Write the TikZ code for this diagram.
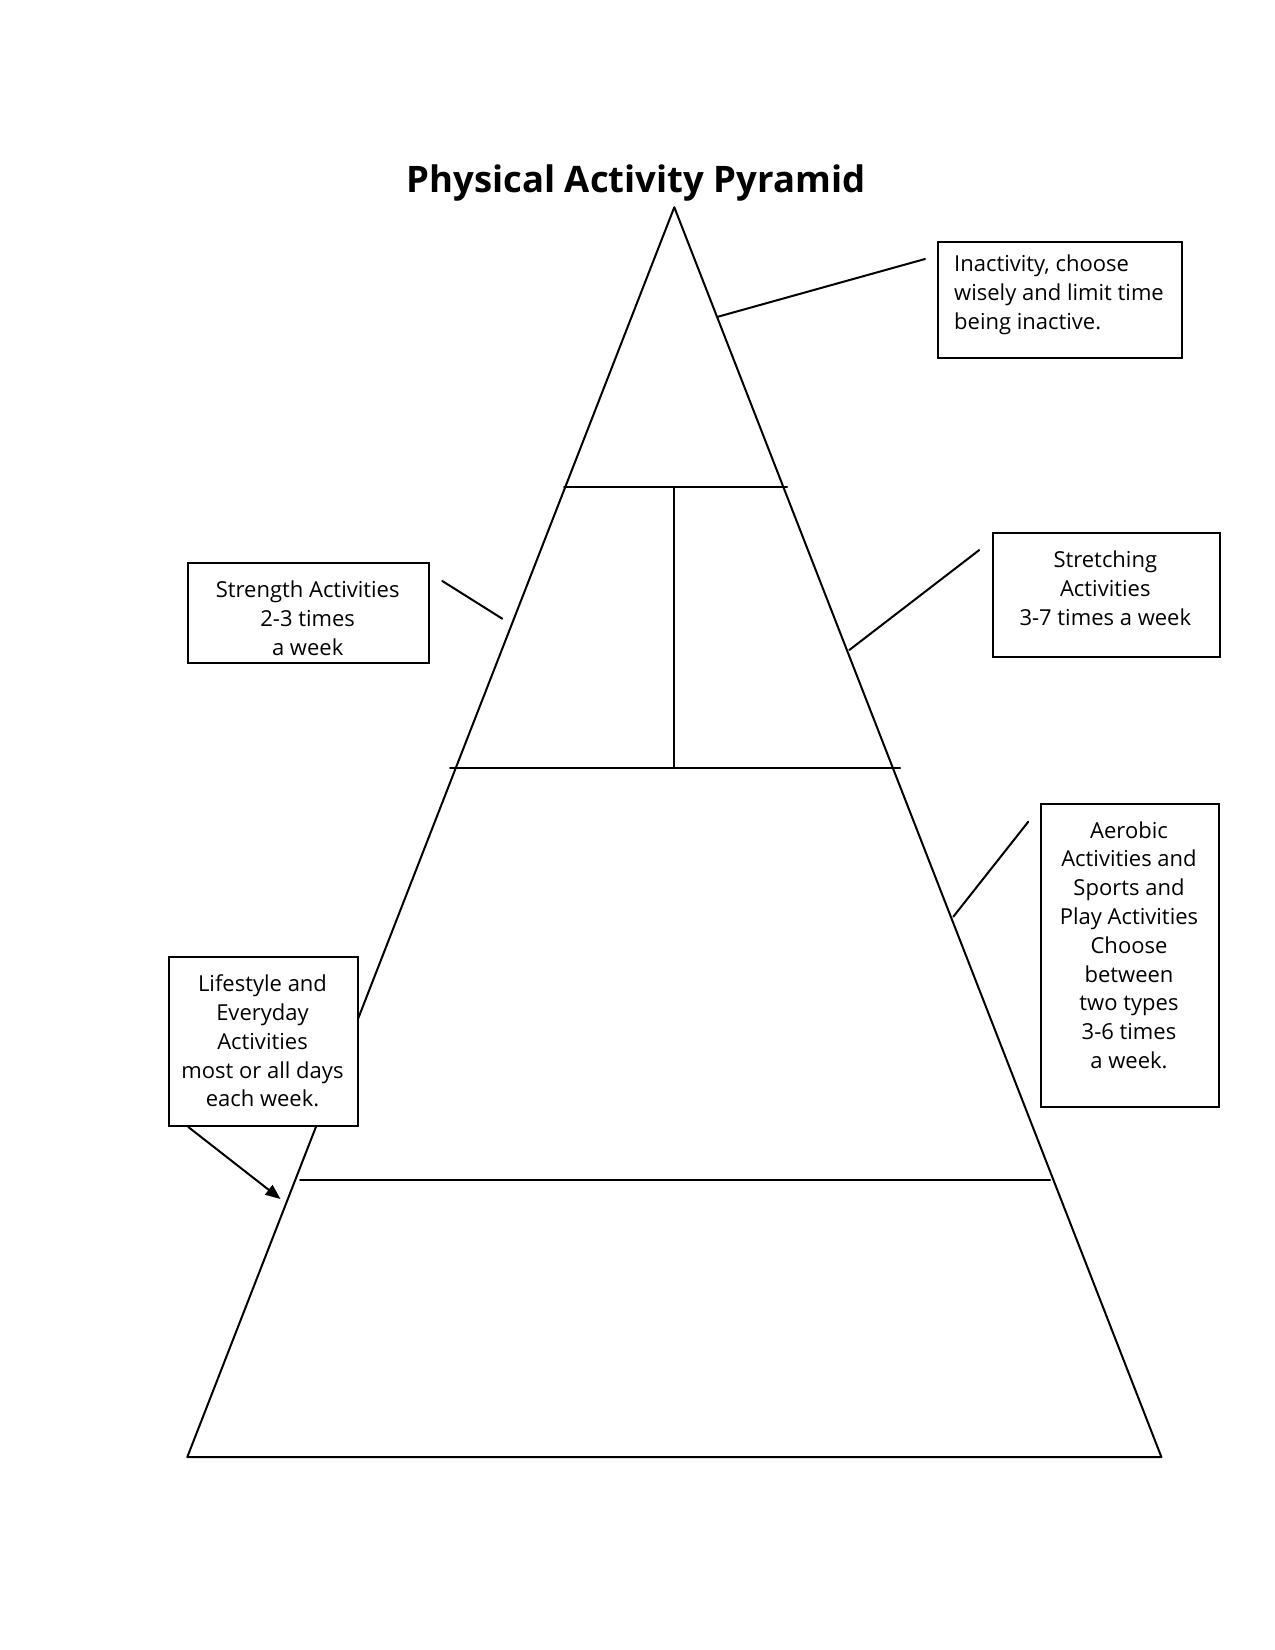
\documentclass[tikz,border=0pt]{standalone}
\usepackage{fontspec}
\setmainfont{Open Sans}
\usetikzlibrary{arrows.meta}
\begin{document}
\begin{tikzpicture}[x=1pt,y=-1pt,
  ln/.style={line width=2pt,line cap=round,line join=round},
  box/.style={draw,line width=2pt,fill=white,inner sep=0pt,anchor=north west},
  txt/.style={inner sep=0pt,font=\fontsize{22}{28.8}\selectfont},
  ttl/.style={inner sep=0pt,font=\fontsize{36.5}{40}\selectfont\bfseries}]
\path[use as bounding box,fill=white] (0,0) rectangle (1275,1650);
% title
\node[ttl,anchor=base] (title) at (636,192) {Physical Activity Pyramid};
% pyramid
\coordinate (apex) at (674.3,207.2);
\coordinate (bl) at (187.3,1457);
\coordinate (br) at (1161.4,1457);
\draw[ln] (apex) -- (bl) -- (br) -- cycle;
\coordinate (h1l) at (564,487); \coordinate (h1r) at (787,487);
\coordinate (h2l) at (450,768); \coordinate (h2r) at (900,768);
\coordinate (vt) at (674.3,487); \coordinate (vb) at (674.3,768);
\coordinate (h3l) at (300,1180); \coordinate (h3r) at (1050,1180);
\draw[ln] (h1l) -- (h1r);
\draw[ln] (h2l) -- (h2r);
\draw[ln] (vt) -- (vb);
\draw[ln] (h3l) -- (h3r);
% boxes
\node[box,minimum width=244,minimum height=116] (b1) at (937,240.7) {};
\node[txt,anchor=west,align=left] (t1) at (954,295) {Inactivity, choose\\wisely and limit time\\being inactive.};
\node[box,minimum width=241,minimum height=100] (b2) at (187.3,562.3) {};
\node[txt,align=center] (t2) at (307.7,618) {Strength Activities\\2-3 times\\a week};
\node[box,minimum width=227.3,minimum height=124.3] (b3) at (991.7,531.7) {};
\node[txt,align=center] (t3) at (1105.3,588) {Stretching\\Activities\\3-7 times a week};
\node[box,minimum width=178.3,minimum height=303.3] (b4) at (1040,802.7) {};
\node[txt,align=center] (t4) at (1129,945) {Aerobic\\Activities and\\Sports and\\Play Activities\\Choose\\between\\two types\\3-6 times\\a week.};
\node[box,minimum width=188.4,minimum height=169] (b5) at (168.3,956) {};
\node[txt,align=center] (t5) at (262.5,1041) {Lifestyle and\\Everyday\\Activities\\most or all days\\each week.};
% connectors
\coordinate (c1) at (718,316.7);
\coordinate (c2) at (502.3,618.7);
\coordinate (c3) at (849.3,650);
\coordinate (c4) at (953.3,916.7);
\coordinate (c5) at (280.5,1199);
\draw[ln] ([xshift=-12pt,yshift=-18.3pt]b1.north west) -- (c1);
\draw[ln] ([xshift=12pt,yshift=-18.7pt]b2.north east) -- (c2);
\draw[ln] ([xshift=-12.4pt,yshift=-18.3pt]b3.north west) -- (c3);
\draw[ln] ([xshift=-11.7pt,yshift=-19pt]b4.north west) -- (c4);
\draw[ln,-{Triangle[length=15pt,width=12pt]}] ([xshift=20pt]b5.south west) -- (c5);
\end{tikzpicture}
\end{document}
